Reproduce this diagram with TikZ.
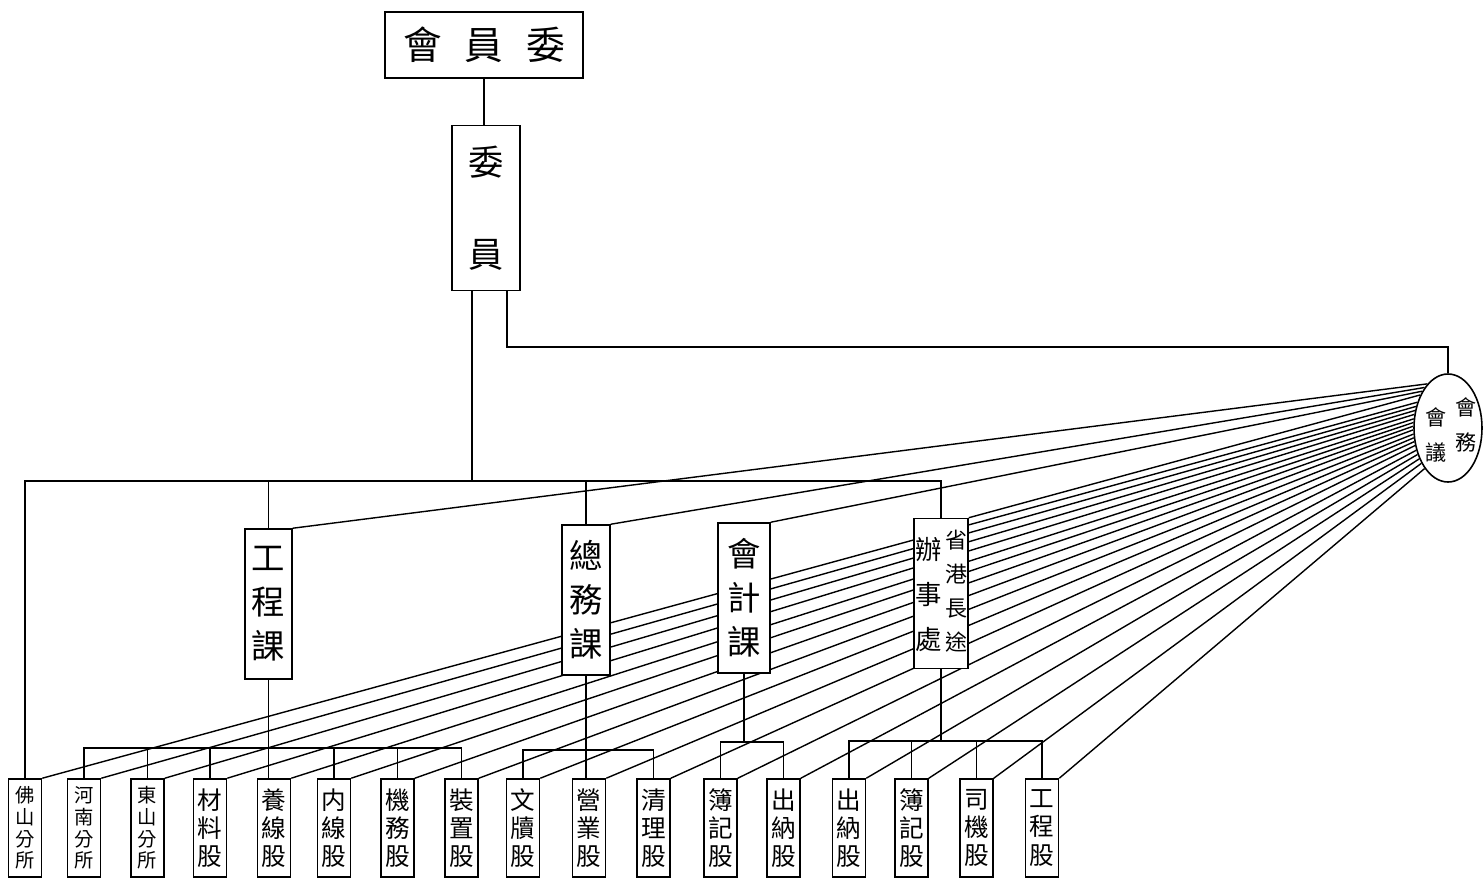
\documentclass[tikz,border=0pt]{standalone}
\usepackage{fontspec}
\newfontfamily\cjk{Noto Sans CJK TC}
\usetikzlibrary{shapes.geometric,calc,backgrounds}

\begin{document}
\begin{tikzpicture}[x=0.2mm, y=-0.2mm, line width=0.9pt]

  \tikzset{box/.style = {draw, fill=white, inner sep=0pt, align=center, font=\cjk\fontsize{19}{25}\selectfont}}
  \tikzset{unit/.style = {box, minimum width=9.6mm, minimum height=30mm}}
  \tikzset{leaf/.style = {box, minimum width=6.6mm, minimum height=19.6mm, font=\cjk\fontsize{14}{16}\selectfont}}
  \tikzset{branch/.style = {leaf, font=\cjk\fontsize{11}{12.3}\selectfont}}
  \tikzset{col/.style = {inner sep=0pt, align=center}}
  \tikzset{fan/.style = {line width=0.8pt}}

  \useasboundingbox (0,0) rectangle (1484,881);

  % committee
  \node[box, minimum width=39.6mm, minimum height=13.2mm, font=\cjk\fontsize{22}{26}\selectfont] (top) at (484,45) {會\hspace{4.6mm}員\hspace{4.6mm}委};
  \node[box, minimum width=13.6mm, minimum height=33mm, font=\cjk\fontsize{20}{52}\selectfont] (wy) at (486,208) {委\\員};
  \node[draw, ellipse, minimum width=13.6mm, minimum height=21.6mm, inner sep=0pt] (hy) at (1448,428) {};
  \node[col, font=\cjk\fontsize{12}{20}\selectfont] (hyr) at (1466,425) {會\\務};
  \node[col, font=\cjk\fontsize{12}{20}\selectfont] (hyl) at (1436,435) {會\\議};

  % sections
  \node[unit, minimum width=9.4mm] (gc) at (268.5,604) {工\\程\\課};
  \node[unit] (zw) at (586,600) {總\\務\\課};
  \node[unit, minimum width=10.4mm] (kj) at (744,598) {會\\計\\課};
  \node[unit, minimum width=10.8mm] (bs) at (941,593.5) {};
  \node[col, font=\cjk\fontsize{12.5}{19.3}\selectfont] (bsr) at (956,591) {省\\港\\長\\途};
  \node[col, font=\cjk\fontsize{15}{25.6}\selectfont] (bsl) at (929,595) {辦\\事\\處};

  % offices
  \node[branch] (fs)  at (25,828)    {佛\\山\\分\\所};
  \node[branch] (hn)  at (84,828)    {河\\南\\分\\所};
  \node[branch] (ds)  at (147.5,828) {東\\山\\分\\所};
  \node[leaf]   (cl)  at (210,828)   {材\\料\\股};
  \node[leaf]   (yx)  at (274,828)   {養\\線\\股};
  \node[leaf]   (nx)  at (334,828)   {内\\線\\股};
  \node[leaf]   (jw)  at (397.5,828) {機\\務\\股};
  \node[leaf]   (zz)  at (461.5,828) {裝\\置\\股};
  \node[leaf]   (wd)  at (523,828)   {文\\牘\\股};
  \node[leaf]   (yy)  at (589,828)   {營\\業\\股};
  \node[leaf]   (ql)  at (653.5,828) {清\\理\\股};
  \node[leaf]   (bja) at (720.5,828) {簿\\記\\股};
  \node[leaf]   (cna) at (783.5,828) {出\\納\\股};
  \node[leaf]   (cnb) at (849,828)   {出\\納\\股};
  \node[leaf]   (bjb) at (911.5,828) {簿\\記\\股};
  \node[leaf]   (sj)  at (976.5,828) {司\\機\\股};
  \node[leaf]   (gcg) at (1042,828)  {工\\程\\股};

  % buses
  \coordinate (link) at (0,347);
  \coordinate (bus)  at (0,481);
  \coordinate (gbus) at (0,748);
  \coordinate (zbus) at (0,750);
  \coordinate (kbus) at (0,742);
  \coordinate (sbus) at (0,741);
  \coordinate (wyl) at ($(wy.south)+(-14,0)$);
  \coordinate (wyr) at ($(wy.south)+(21,0)$);

  % edges
  \draw (top.south) -- (top.south |- wy.north);
  \draw (wyl) -- (wyl |- bus);
  \draw (wyr) -- (wyr |- link) -| (hy.north);
  \draw (fs.north) |- (bus -| bs.north) -- (bs.north);
  \draw (gc.north) -- (gc.north |- bus);
  \draw (zw.north) -- (zw.north |- bus);

  \draw (gc.south) -- (gc.south |- yx.north);
  \draw (hn.north) |- (gbus -| zz.north) -- (zz.north);
  \draw (ds.north) -- (ds.north |- gbus) (cl.north) -- (cl.north |- gbus)
        (nx.north) -- (nx.north |- gbus) (jw.north) -- (jw.north |- gbus);

  \draw (zw.south) -- (zw.south |- yy.north);
  \draw (wd.north) |- (zbus -| ql.north) -- (ql.north);

  \draw (kj.south) -- (kj.south |- kbus);
  \draw (bja.north) |- (kbus -| cna.north) -- (cna.north);

  \draw (bs.south) -- (bs.south |- sbus);
  \draw (cnb.north) |- (sbus -| gcg.north) -- (gcg.north);
  \draw (bjb.north) -- (bjb.north |- sbus) (sj.north) -- (sj.north |- sbus);

  % fan from the council
  \begin{scope}[on background layer]
  \draw[fan] (hy.115) -- (gc.north east);
  \draw[fan] (hy.120) -- (zw.north east);
  \draw[fan] (hy.125) -- (kj.north east);
  \draw[fan] (hy.130) -- (bs.north east);
  \draw[fan] (hy.140) -- (fs.north east);
  \draw[fan] (hy.146) -- (hn.north east);
  \draw[fan] (hy.152) -- (ds.north east);
  \draw[fan] (hy.158) -- (cl.north east);
  \draw[fan] (hy.165) -- (yx.north east);
  \draw[fan] (hy.171) -- (nx.north east);
  \draw[fan] (hy.177) -- (jw.north east);
  \draw[fan] (hy.183) -- (zz.north east);
  \draw[fan] (hy.190) -- (wd.north east);
  \draw[fan] (hy.196) -- (yy.north east);
  \draw[fan] (hy.202) -- (ql.north east);
  \draw[fan] (hy.208) -- (bja.north east);
  \draw[fan] (hy.215) -- (cna.north east);
  \draw[fan] (hy.221) -- (cnb.north east);
  \draw[fan] (hy.227) -- (bjb.north east);
  \draw[fan] (hy.233) -- (sj.north east);
  \draw[fan] (hy.240) -- (gcg.north east);
  \end{scope}

\end{tikzpicture}
\end{document}
